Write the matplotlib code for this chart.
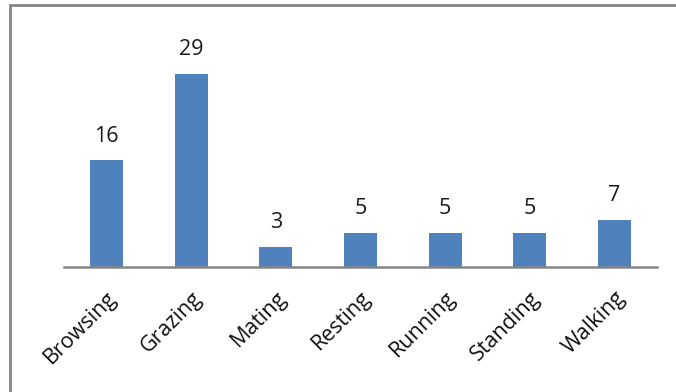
import matplotlib
matplotlib.use("Agg")
import matplotlib.pyplot as plt
from matplotlib.patches import Rectangle

behaviours = ["Browsing", "Grazing", "Mating", "Resting", "Running", "Standing", "Walking"]
counts = [16, 29, 3, 5, 5, 5, 7]

BAR_COLOR = "#4F81BD"
AXIS_COLOR = "#868686"

plt.rcParams["font.family"] = ["Open Sans", "DejaVu Sans"]

fig = plt.figure(figsize=(6.76, 3.92), dpi=100)

# chart frame: only the top and left edges fall inside the image
fig.patches.append(Rectangle((9.5 / 676, -0.1), 1.0, 1.1 - 5.5 / 392, transform=fig.transFigure,
                             facecolor="none", edgecolor=AXIS_COLOR, linewidth=2.0))

ax = fig.add_axes([64 / 676, (392 - 266.5) / 392, 593 / 676, 232 / 392])
x = range(len(behaviours))
bars = ax.bar(x, counts, width=0.39, color=BAR_COLOR, edgecolor="none", zorder=2)

for rect, value in zip(bars, counts):
    ax.annotate(str(value), (rect.get_x() + rect.get_width() / 2, rect.get_height()),
                xytext=(0, 10), textcoords="offset points", ha="center", va="bottom",
                fontsize=15.5, color="#1a1a1a")

ax.set_xlim(-0.5, len(behaviours) - 0.5)
ax.set_ylim(0, 35)
ax.set_xticks(list(x))
ax.set_xticklabels(behaviours, rotation=45, ha="right", va="top", rotation_mode="anchor",
                   fontsize=15.5, color="#111111")
ax.tick_params(axis="x", length=0, pad=15)
ax.set_yticks([])

for side in ("top", "right", "left"):
    ax.spines[side].set_visible(False)
ax.spines["bottom"].set_color(AXIS_COLOR)
ax.spines["bottom"].set_linewidth(1.8)

fig.savefig("out.png", dpi=100)
